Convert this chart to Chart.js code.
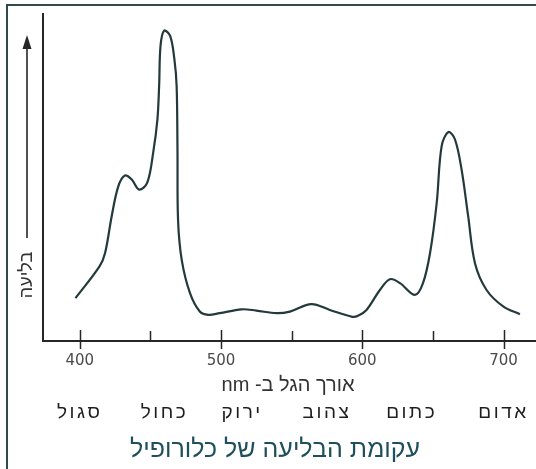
<!DOCTYPE html>
<html lang="he">
<head>
<meta charset="utf-8">
<title>עקומת הבליעה של כלורופיל</title>
<script src="https://cdn.jsdelivr.net/npm/chart.js@4"></script>
<style>
  html, body { margin: 0; padding: 0; background: #fff; }
  #wrap { position: relative; width: 536px; height: 469px; }
</style>
</head>
<body>
<div id="wrap"><canvas id="chart" width="536" height="469"></canvas></div>
<script>
// Wavelength (nm) and relative absorption
const wavelengths = [397, 414, 418, 422.6, 427.3, 432, 436.8, 442, 447.8, 452,
  455, 456.2, 457.2, 459.7, 464, 467, 468.6, 469.2, 469.6, 472.2,
  478, 485, 491, 499, 514.6, 525, 539.4, 548.8,
  564, 577, 593, 597, 603, 612.5, 619.6, 626.7, 637.3, 643,
  648, 652.7, 656.2, 661, 665.6, 670.3, 675, 679.8, 688, 700, 711.6];
const absorption = [13.1, 22.8, 27.0, 38.1, 47.3, 50.6, 49.4, 46.3, 48.4, 57.6,
  67.8, 78.0, 90.3, 94.9, 93.3, 86.2, 78.0, 58.6, 37.1, 24.8,
  14.7, 9.0, 8.0, 8.5, 9.7, 9.3, 8.5, 9.0,
  11.3, 9.5, 7.4, 7.7, 9.5, 15.6, 18.9, 17.7, 14.1, 17.7,
  26.9, 42.2, 59.6, 63.9, 61.7, 52.5, 38.1, 23.8, 15.6, 10.5, 8.2];

// Axis ticks
const majorTicks = [400, 500, 600, 700];
const minorTicks = [450, 550, 650];

// Spectrum colour bands under the axis (name, wavelength)
const bandNames = ['סגול', 'כחול', 'ירוק', 'צהוב', 'כתום', 'אדום'];
const bandWavelengths = [400, 460, 515, 575, 635, 700];

const chartTitle = 'עקומת הבליעה של כלורופיל';
const xTitle = 'אורך הגל ב- nm';
const yTitle = 'בליעה';

const HEB_FONT = '"Liberation Sans", "DejaVu Sans", sans-serif';
const INK = '#262626';

// Frame, axes lines, tick marks and all the text around the plot
const decor = {
  id: 'decor',
  beforeDraw(chart) {
    const { ctx, width, height } = chart;
    ctx.save();
    ctx.fillStyle = '#fff';
    ctx.fillRect(0, 0, width, height);
    ctx.strokeStyle = '#34494c';
    ctx.lineWidth = 2;
    ctx.beginPath();
    ctx.moveTo(6, 5);
    ctx.lineTo(width, 5);
    ctx.moveTo(7, 4);
    ctx.lineTo(7, height);
    ctx.stroke();
    ctx.restore();
  },
  afterDraw(chart) {
    const { ctx, chartArea: a, scales: { x } } = chart;
    ctx.save();

    // y axis line
    ctx.strokeStyle = INK;
    ctx.lineWidth = 2;
    ctx.beginPath();
    ctx.moveTo(a.left, 13);
    ctx.lineTo(a.left, a.bottom + 1);
    ctx.stroke();

    // tick marks: major ones cross the axis, minor ones sit above it
    ctx.lineWidth = 1.5;
    ctx.beginPath();
    majorTicks.forEach(v => {
      const px = Math.round(x.getPixelForValue(v)) + 0.5;
      ctx.moveTo(px, a.bottom - 11);
      ctx.lineTo(px, a.bottom + 8);
    });
    minorTicks.forEach(v => {
      const px = Math.round(x.getPixelForValue(v)) + 0.5;
      ctx.moveTo(px, a.bottom - 10);
      ctx.lineTo(px, a.bottom);
    });
    ctx.stroke();

    // y label with the arrow above it
    ctx.save();
    ctx.translate(27, 275);
    ctx.rotate(-Math.PI / 2);
    ctx.direction = 'rtl';
    ctx.font = '18px ' + HEB_FONT;
    ctx.fillStyle = '#333';
    ctx.textAlign = 'center';
    ctx.textBaseline = 'middle';
    ctx.fillText(yTitle, 0, 0);
    ctx.restore();

    ctx.strokeStyle = INK;
    ctx.lineWidth = 1.6;
    ctx.beginPath();
    ctx.moveTo(27, 238);
    ctx.lineTo(27, 46);
    ctx.stroke();
    ctx.fillStyle = INK;
    ctx.beginPath();
    ctx.moveTo(27, 35);
    ctx.lineTo(22.5, 49);
    ctx.lineTo(31.5, 49);
    ctx.closePath();
    ctx.fill();

    // x title
    ctx.direction = 'rtl';
    ctx.textAlign = 'center';
    ctx.textBaseline = 'middle';
    ctx.fillStyle = '#333';
    ctx.font = '20px ' + HEB_FONT;
    ctx.fillText(xTitle, 288, 385);

    // colour band names
    ctx.font = '19px ' + HEB_FONT;
    ctx.fillStyle = '#1e1e1e';
    ctx.letterSpacing = '2.5px';
    bandNames.forEach((name, i) => {
      ctx.fillText(name, x.getPixelForValue(bandWavelengths[i]), 413);
    });
    ctx.letterSpacing = '0px';

    // chart title
    ctx.font = '25px ' + HEB_FONT;
    ctx.fillStyle = '#1f4f5b';
    ctx.fillText(chartTitle, 275, 450);

    ctx.restore();
  }
};

const ctx = document.getElementById('chart').getContext('2d');
new Chart(ctx, {
  type: 'line',
  data: {
    datasets: [{
      data: wavelengths.map((w, i) => ({ x: w, y: absorption[i] })),
      borderColor: '#23393b',
      borderWidth: 2.2,
      pointRadius: 0,
      fill: false,
      tension: 0.35
    }]
  },
  options: {
    responsive: false,
    animation: false,
    layout: { padding: { left: 43, top: 14, right: 0, bottom: 0 } },
    plugins: {
      legend: { display: false },
      tooltip: { enabled: false }
    },
    scales: {
      x: {
        type: 'linear',
        min: 374,
        max: 723,
        afterBuildTicks: scale => {
          scale.ticks = majorTicks.map(v => ({ value: v }));
        },
        afterFit: scale => {
          scale.height = 128;
        },
        grid: { display: false, drawTicks: false },
        border: { display: true, color: INK, width: 2 },
        ticks: {
          padding: 11,
          color: '#4a4a4a',
          font: { family: '"DejaVu Sans", sans-serif', size: 15 }
        }
      },
      y: {
        display: false,
        min: 0,
        max: 100
      }
    }
  },
  plugins: [decor]
});
</script>
</body>
</html>
